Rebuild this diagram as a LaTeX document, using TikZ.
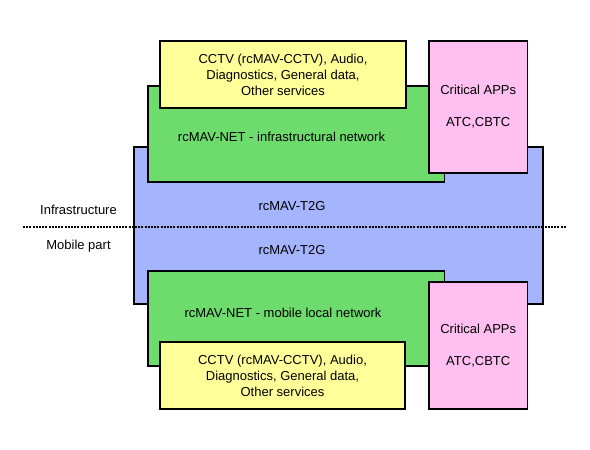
\documentclass[tikz,border=0pt]{standalone}
\usepackage{fontspec}
\setmainfont{Liberation Sans}
\definecolor{tgblue}{HTML}{A5B4FF}
\definecolor{netgreen}{HTML}{6DDC6D}
\definecolor{svcyellow}{HTML}{FFFF99}
\definecolor{apppink}{HTML}{FFBFF0}
\begin{document}
\begin{tikzpicture}[x=1pt,y=-1pt,
    box/.style={draw,line width=1.5pt,rectangle,inner sep=0pt,align=center,
        font=\fontsize{13}{16}\selectfont},
    txt/.style={font=\fontsize{13}{16}\selectfont}]
    \useasboundingbox (0,0) rectangle (590,450);
    \node[box,fill=tgblue,minimum width=409pt,minimum height=157pt] (t2g) at (338.5,225.5) {};
    \node[box,fill=netgreen,minimum width=296.5pt,minimum height=96pt] (netinf) at (296.25,134) {};
    \node[box,fill=netgreen,minimum width=296.5pt,minimum height=95pt] (netmob) at (296.25,318.5) {};
    \coordinate (dl) at (23,227);
    \coordinate (dr) at (566,227);
    \draw[line width=2pt,dash pattern=on 2pt off 1.2pt] (dl)--(dr);
    \node[box,fill=svcyellow,minimum width=246pt,minimum height=67pt] (svcinf) at (283,74.5)
        {CCTV (rcMAV-CCTV), Audio,\\Diagnostics, General data,\\Other services};
    \node[box,fill=svcyellow,minimum width=245pt,minimum height=67pt] (svcmob) at (282.5,375.5)
        {CCTV (rcMAV-CCTV), Audio,\\Diagnostics, General data,\\Other services};
    \node[box,fill=apppink,minimum width=98.5pt,minimum height=132pt] (appinf) at (478.25,107)
        {Critical APPs\\[16pt]ATC,CBTC};
    \node[box,fill=apppink,minimum width=98.5pt,minimum height=127pt] (appmob) at (478.25,345.5)
        {Critical APPs\\[16pt]ATC,CBTC};
    \node[txt] (netinftxt) at (281.5,137) {rcMAV-NET - infrastructural network};
    \node[txt] (netmobtxt) at (283,313) {rcMAV-NET - mobile local network};
    \node[txt] (t2ginf) at (292,206) {rcMAV-T2G};
    \node[txt] (t2gmob) at (292,250) {rcMAV-T2G};
    \node[txt] (infra) at (78.5,210) {Infrastructure};
    \node[txt] (mobile) at (78.5,246) {Mobile part};
\end{tikzpicture}
\end{document}
